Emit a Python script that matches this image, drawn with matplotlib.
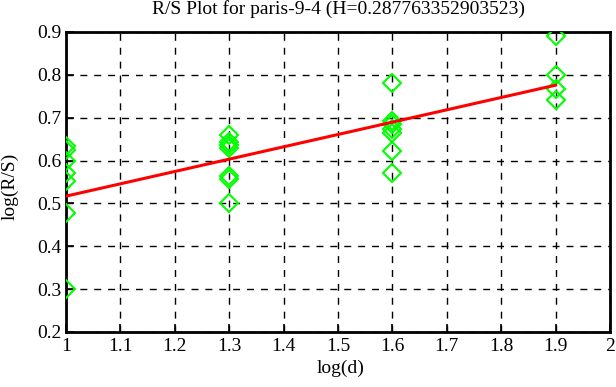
import matplotlib
matplotlib.use("Agg")
import matplotlib.pyplot as plt
import numpy as np

log_d = [1.0]*7 + [1.3]*7 + [1.6]*7 + [1.9]*4
log_rs = [0.635, 0.625, 0.60, 0.57, 0.553, 0.478, 0.30,
          0.66, 0.643, 0.636, 0.630, 0.565, 0.557, 0.50,
          0.781, 0.692, 0.685, 0.673, 0.665, 0.623, 0.572,
          0.891, 0.80, 0.767, 0.741]
H = 0.287763352903523
intercept = 0.517
fit_x = [1.0, 1.9]
fit_y = [intercept + H*(x - 1.0) for x in fit_x]

xticks = [1, 1.1, 1.2, 1.3, 1.4, 1.5, 1.6, 1.7, 1.8, 1.9, 2]
yticks = [0.2, 0.3, 0.4, 0.5, 0.6, 0.7, 0.8, 0.9]

plt.rcParams['font.family'] = ['Liberation Serif', 'DejaVu Serif']
W, Hh = 616, 387
fig = plt.figure(figsize=(W/100, Hh/100), dpi=100)
ax = fig.add_axes([66/W, 1-332/Hh, (610-66)/W, (332-32)/Hh])
ax.plot(log_d, log_rs, linestyle='none', marker='D', markersize=9.5,
        markerfacecolor='none', markeredgecolor='#00ff00', markeredgewidth=1.5, zorder=3)
ax.plot(fit_x, fit_y, color='#ff0000', linewidth=2.2, zorder=4)
ax.set_xlim(1, 2)
ax.set_ylim(0.2, 0.9)
ax.set_xticks(xticks)
ax.set_xticklabels([f"{t:g}" for t in xticks])
ax.set_yticks(yticks)
ax.set_yticklabels([f"{t:g}" for t in yticks])
ax.tick_params(direction='in', length=6, width=1.2, labelsize=14, top=False, right=False)
ax.tick_params(axis='x', pad=4.5)
ax.tick_params(axis='y', pad=3)
ax.grid(True, color='black', linestyle=(0, (5, 5)), linewidth=1)
for s in ax.spines.values():
    s.set_linewidth(2)
fig.text(338/W, 1-14/Hh, "R/S Plot for paris-9-4 (H=0.287763352903523)",
         fontsize=14, ha='center', va='baseline')
fig.text(341/W, 1-373/Hh, "log(d)", fontsize=14, ha='center', va='baseline')
fig.text(1/W, 1-186/Hh, "log(R/S)", fontsize=14, ha='left', va='center', rotation=90)
fig.savefig("out.png", dpi=100)
